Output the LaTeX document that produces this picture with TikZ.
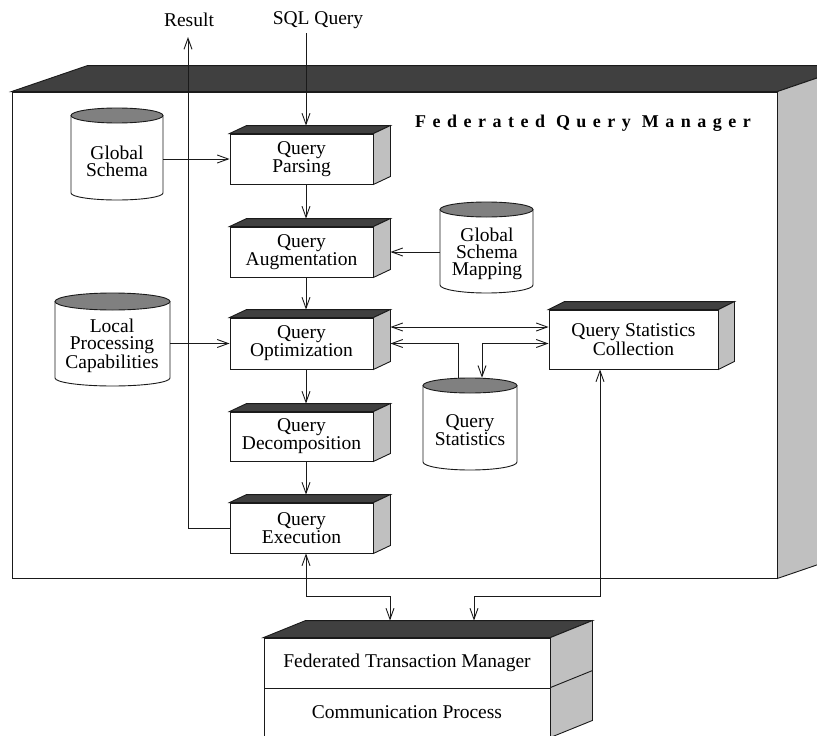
\documentclass[tikz,border=0pt]{standalone}
\usepackage{fontspec}
\setmainfont{Liberation Serif}
\newfontfamily\titlefont[LetterSpace=36]{Liberation Serif}
\usetikzlibrary{arrows.meta,calc}

\definecolor{topface}{HTML}{404040}
\definecolor{sideface}{HTML}{C0C0C0}
\definecolor{capface}{HTML}{808080}
\definecolor{linecol}{HTML}{1A1A1A}

\tikzset{
  lbl/.style={font=\fontsize{19.5}{17}\selectfont, align=center, inner sep=0pt, text=black},
  front/.style={draw=linecol, fill=white, line width=0.9pt, inner sep=0pt,
                minimum width=143pt, minimum height=50pt, lbl},
  conn/.style={draw=linecol, line width=0.9pt},
  arr/.style={conn, -{Straight Barb[length=11pt,width=8pt]}},
  both/.style={conn, {Straight Barb[length=11pt,width=8pt]}-{Straight Barb[length=11pt,width=8pt]}},
  face/.style={draw=linecol, line width=0.9pt, line join=miter},
}

% top face of a 3D box: node, dx, dy (up)
\newcommand\boxtop[3]{%
  \filldraw[face, fill=topface] (#1.north west) -- ++(#2pt,#3pt)
    -- ([shift={(#2pt,#3pt)}]#1.north east) -- (#1.north east) -- cycle;}
% right face of a 3D box
\newcommand\boxside[3]{%
  \filldraw[face, fill=sideface] (#1.north east) -- ++(#2pt,#3pt)
    -- ([shift={(#2pt,#3pt)}]#1.south east) -- (#1.south east) -- cycle;}

% cylinder: name, x1, x2, ytop, ybottom(side), ry, dip
\newcommand\cylshape[7]{%
  \pgfmathsetmacro\cxa{#2}\pgfmathsetmacro\cxb{#3}%
  \pgfmathsetmacro\cxm{(#2+#3)/2}\pgfmathsetmacro\crx{(#3-#2)/2}%
  \pgfmathsetmacro\cyc{#4+#6}\pgfmathsetmacro\cyd{#5+#7}%
  \pgfmathsetmacro\ckx{0.5523*\crx}\pgfmathsetmacro\cky{#5+0.5523*#7}%
  \pgfmathsetmacro\cwd{#3-#2}\pgfmathsetmacro\cht{#5+#7-#4}%
  \pgfmathsetmacro\cmid{(#4+#5+#7)/2}%
  \filldraw[face, fill=white] (\cxa,\cyc) -- (\cxa,#5)
     .. controls (\cxa,\cky) and (\cxm-\ckx,\cyd) .. (\cxm,\cyd)
     .. controls (\cxm+\ckx,\cyd) and (\cxb,\cky) .. (\cxb,#5) -- (\cxb,\cyc);
  \filldraw[face, fill=capface] (\cxm,\cyc) ellipse [x radius=\crx pt, y radius=#6 pt];
  \node[inner sep=0pt, minimum width=\cwd pt, minimum height=\cht pt] (#1) at (\cxm,\cmid) {};}

\begin{document}
\begin{tikzpicture}[x=1pt,y=-1pt]
\useasboundingbox (0,0) rectangle (817,736);
\clip (0,0) rectangle (817,736);

% outer manager box
\node[draw=linecol, fill=white, line width=0.9pt, minimum width=765pt, minimum height=486pt, inner sep=0pt]
  (fqmbox) at (394.5,335) {};
\boxtop{fqmbox}{76}{26}
\boxside{fqmbox}{76}{26}
\node[font={\fontsize{18}{20}\titlefont\bfseries}, anchor=base west, inner sep=0pt] (title) at (415,127) {Federated Query Manager};

% labels outside
\node[lbl] (reslbl) at (189,20) {Result};
\node[lbl] (sqllbl) at (318,20) {SQL Query};

% process boxes
\node[front] (qp) at (301.5,159) {Query\\Parsing};
\boxtop{qp}{17}{8}\boxside{qp}{17}{8}
\node[front] (qa) at (301.5,252) {Query\\Augmentation};
\boxtop{qa}{17}{8}\boxside{qa}{17}{8}
\node[front, minimum height=51pt] (qo) at (301.5,343.5) {Query\\Optimization};
\boxtop{qo}{17}{8}\boxside{qo}{17}{8}
\node[front, minimum height=49pt] (qd) at (301.5,436.5) {Query\\Decomposition};
\boxtop{qd}{17}{8}\boxside{qd}{17}{8}
\node[front] (qe) at (301.5,528) {Query\\Execution};
\boxtop{qe}{17}{8}\boxside{qe}{17}{8}
\node[front, minimum width=169pt, minimum height=59pt] (qsc) at (633.5,339.5) {Query Statistics\\Collection};
\boxtop{qsc}{16}{8}\boxside{qsc}{16}{8}

% lower stacked box
\node[front, minimum width=286pt, minimum height=50pt] (ftm) at (407,663) {Federated Transaction Manager};
\node[front, minimum width=286pt, minimum height=49pt] (cp) at (407,712.5) {Communication Process};
\boxtop{ftm}{42}{17}\boxside{ftm}{42}{17}\boxside{cp}{42}{17}

% cylinders
\cylshape{gs}{71}{163}{108}{193}{7.5}{7}
\node[lbl] (gst) at (117,161) {Global\\Schema};
\cylshape{gsm}{440}{533}{202}{285}{7.5}{8}
\node[lbl] (gsmt) at (487,254) {Global\\Schema\\Mapping};
\cylshape{lpc}{55}{170}{293}{378}{8.5}{8}
\node[lbl] (lpct) at (112,346) {Local\\Processing\\Capabilities};
\cylshape{qs}{423}{517}{378}{462}{7.5}{8}
\node[lbl] (qst) at (470,430) {Query\\Statistics};

% connectors
\coordinate (sqlin) at (306,33);
\coordinate (resout) at (188,37);
\coordinate (lowrail) at (0,596);
\draw[arr] (sqlin) -- ([shift={(4.5pt,8pt)}]qp.north);
\draw[arr] (qe.west) -| (resout);
\draw[arr] ([xshift=4.5pt]qp.south) -- ([shift={(4.5pt,8pt)}]qa.north);
\draw[arr] ([xshift=4.5pt]qa.south) -- ([shift={(4.5pt,8pt)}]qo.north);
\draw[arr] ([xshift=4.5pt]qo.south) -- ([shift={(4.5pt,8pt)}]qd.north);
\draw[arr] ([xshift=4.5pt]qd.south) -- ([shift={(4.5pt,8pt)}]qe.north);

\draw[arr] (gs.east |- qp.west) -- (qp.west);
\draw[arr] (gsm.west |- qa.east) -- ([xshift=17pt]qa.east);
\draw[arr] (lpc.east |- qo.west) -- (qo.west);

\coordinate (qoU) at ([shift={(17pt,16.5pt)}]qo.east);
\coordinate (qoL) at ([xshift=17pt]qo.east);
\coordinate (qsL) at ([xshift=-12pt]qs.north);
\coordinate (qsR) at ([xshift=12pt]qs.north);
\draw[both] (qoU) -- (qoU -| qsc.west);
\draw[arr] (qsL) |- (qoL);
\draw[both] (qsR) |- (qoL -| qsc.west);

\coordinate (qscb) at ([xshift=-33.5pt]qsc.south);
\coordinate (qeb) at ([xshift=4.5pt]qe.south);
\coordinate (ftmA) at ([shift={(-17pt,17pt)}]ftm.north);
\coordinate (ftmB) at ([shift={(67pt,17pt)}]ftm.north);
\draw[both] (qeb) -- (qeb |- lowrail) -| (ftmA);
\draw[both] (qscb) -- (qscb |- lowrail) -| (ftmB);
\end{tikzpicture}
\end{document}
